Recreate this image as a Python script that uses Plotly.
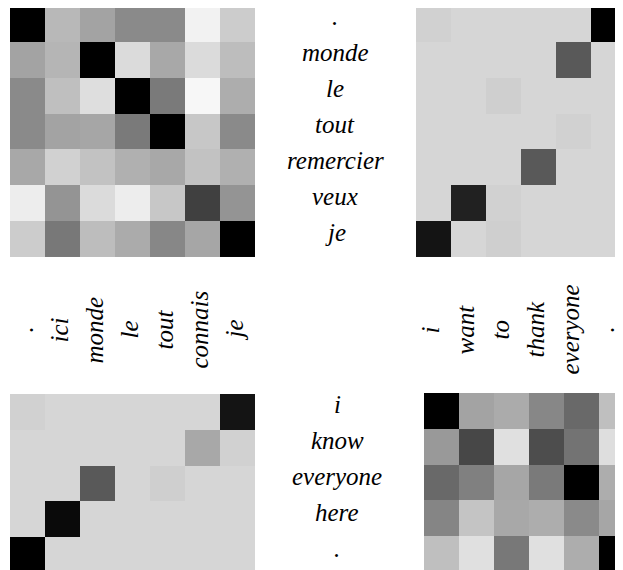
import plotly.graph_objects as go

# ---- data (darkness: 0 = white, 1 = black) ----
top_rows = [".", "monde", "le", "tout", "remercier", "veux", "je"]
bottom_rows = ["i", "know", "everyone", "here", "."]
left_cols = [".", "ici", "monde", "le", "tout", "connais", "je"]
right_cols = ["i", "want", "to", "thank", "everyone", "."]

tl_vals = [
    [1.00, 0.28, 0.36, 0.46, 0.46, 0.05, 0.20],
    [0.36, 0.29, 1.00, 0.14, 0.34, 0.14, 0.26],
    [0.46, 0.25, 0.13, 1.00, 0.52, 0.03, 0.32],
    [0.46, 0.36, 0.35, 0.52, 1.00, 0.22, 0.46],
    [0.34, 0.18, 0.24, 0.31, 0.34, 0.24, 0.31],
    [0.07, 0.42, 0.14, 0.07, 0.22, 0.75, 0.42],
    [0.20, 0.53, 0.26, 0.33, 0.47, 0.35, 1.00],
]
tr_vals = [
    [0.18, 0.16, 0.16, 0.16, 0.16, 1.00],
    [0.16, 0.16, 0.16, 0.16, 0.65, 0.16],
    [0.16, 0.16, 0.19, 0.16, 0.16, 0.16],
    [0.16, 0.16, 0.16, 0.16, 0.18, 0.16],
    [0.16, 0.16, 0.16, 0.65, 0.16, 0.16],
    [0.16, 0.87, 0.18, 0.16, 0.16, 0.16],
    [0.92, 0.16, 0.19, 0.16, 0.16, 0.16],
]
bl_vals = [
    [0.18, 0.16, 0.16, 0.16, 0.16, 0.16, 0.92],
    [0.16, 0.16, 0.16, 0.16, 0.16, 0.34, 0.18],
    [0.16, 0.16, 0.65, 0.16, 0.19, 0.16, 0.16],
    [0.16, 0.96, 0.16, 0.16, 0.16, 0.16, 0.16],
    [1.00, 0.16, 0.16, 0.16, 0.16, 0.16, 0.16],
]
br_vals = [
    [1.00, 0.36, 0.33, 0.47, 0.59, 0.25],
    [0.40, 0.72, 0.12, 0.70, 0.55, 0.13],
    [0.59, 0.50, 0.35, 0.52, 1.00, 0.32],
    [0.48, 0.23, 0.34, 0.32, 0.46, 0.35],
    [0.25, 0.12, 0.53, 0.12, 0.32, 1.00],
]

OFF = 8  # default page body margin
W, H = 623 - OFF, 570 - OFF
grey = [[0, "#ffffff"], [1, "#000000"]]
FONT = dict(family="Times New Roman, Liberation Serif, serif", size=25, color="#000000")


def px_x(v):
    return (v - OFF) / W


def px_y(v):
    return 1 - (v - OFF) / H


fig = go.Figure()
mats = [(tl_vals, "x", "y"), (tr_vals, "x2", "y2"), (bl_vals, "x3", "y3"), (br_vals, "x4", "y4")]
for z, xa, ya in mats:
    fig.add_trace(go.Heatmap(
        z=z, x=list(range(len(z[0]))), y=list(range(len(z))),
        colorscale=grey, zmin=0, zmax=1, showscale=False,
        xaxis=xa, yaxis=ya, hoverinfo="skip",
    ))

top_vis = (257 - OFF) / 35.86  # rows visible below the page margin
ax_common = dict(showticklabels=False, showgrid=False, zeroline=False, ticks="", showline=False)
fig.update_layout(
    width=W, height=H,
    margin=dict(l=0, r=0, t=0, b=0),
    paper_bgcolor="white", plot_bgcolor="white",
    showlegend=False,
    xaxis=dict(domain=[px_x(10), px_x(255)], range=[-0.5, 6.5], **ax_common),
    yaxis=dict(domain=[px_y(257), 1], range=[6.5, 6.5 - top_vis], **ax_common),
    xaxis2=dict(domain=[px_x(416), 1], range=[-0.5, -0.5 + 207 / 35], **ax_common),
    yaxis2=dict(domain=[px_y(257), 1], range=[6.5, 6.5 - top_vis], **ax_common),
    xaxis3=dict(domain=[px_x(10), px_x(255)], range=[-0.5, 6.5], **ax_common),
    yaxis3=dict(domain=[0, px_y(394)], range=[-0.5 + 176 / 35.8, -0.5], **ax_common),
    xaxis4=dict(domain=[px_x(424), 1], range=[-0.5, -0.5 + 199 / 35], **ax_common),
    yaxis4=dict(domain=[0, px_y(393)], range=[-0.5 + 177 / 35.8, -0.5], **ax_common),
)

ann = []
for i, t in enumerate(top_rows):
    ann.append(dict(text="<i>" + t + "</i>", xref="paper", x=px_x(335), yref="y", y=i,
                    xanchor="center", yanchor="middle", yshift=7, showarrow=False, font=FONT))
for i, t in enumerate(bottom_rows):
    ann.append(dict(text="<i>" + t + "</i>", xref="paper", x=px_x(337), yref="y3", y=i,
                    xanchor="center", yanchor="middle", yshift=7, showarrow=False, font=FONT))
for i, t in enumerate(left_cols):
    ann.append(dict(text="<i>" + t + "</i>", xref="x3", x=i, yref="paper", y=px_y(330),
                    textangle=-90, xanchor="center", yanchor="middle", xshift=-4,
                    showarrow=False, font=FONT))
for i, t in enumerate(right_cols):
    ann.append(dict(text="<i>" + t + "</i>", xref="x2", x=i, yref="paper", y=px_y(330),
                    textangle=-90, xanchor="center", yanchor="middle", xshift=-4,
                    showarrow=False, font=FONT))
fig.update_layout(annotations=ann)

fig.write_html("out.html")
